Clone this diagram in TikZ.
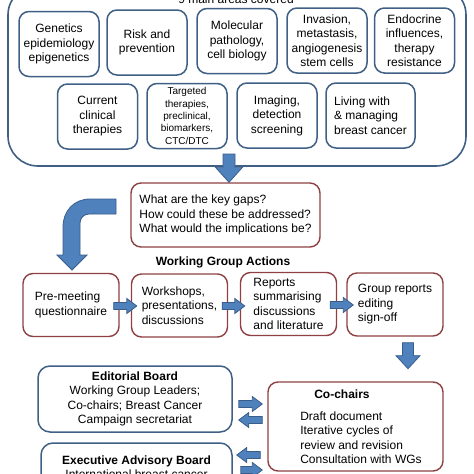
\documentclass[tikz,border=0pt]{standalone}
\usepackage{fontspec}
\setmainfont{Liberation Sans}
\usetikzlibrary{calc, positioning}
\definecolor{boxblue}{HTML}{3F5F85}
\definecolor{boxred}{HTML}{8E4042}
\definecolor{arrowfill}{HTML}{4F81BD}
\definecolor{arrowline}{HTML}{385D8A}
\tikzset{
    textnode/.style  = {draw=none, fill=none, rectangle, inner sep=0em, node distance=0em, 
      align=center, font=\fontsize{12}{14.5}\selectfont},
    outerbox/.style = {draw=boxblue, line width=1.6pt, rectangle, rounded corners=30pt, 
      minimum width=458pt, minimum height=181pt},
    areanode/.style = {draw=boxblue, line width=1.5pt, rectangle, rounded corners=10pt, inner sep=0em, 
      node distance=0em, minimum width=80pt, minimum height=65pt, align=center, 
      font=\fontsize{12}{14.5}\selectfont},
    actionnode/.style = {draw=boxred, line width=1.4pt, rectangle, rounded corners=10pt, inner sep=0em, 
      node distance=0em, minimum width=96pt, minimum height=63pt, align=left, 
      font=\fontsize{12}{14.5}\selectfont},
    boardnode/.style = {draw=boxblue, line width=1.5pt, rectangle, rounded corners=12pt, inner sep=0em, 
      node distance=0em, align=center, font=\fontsize{12}{14.5}\selectfont},
    blockarrow/.style = {draw=arrowline, fill=arrowfill, line width=0.8pt, line join=miter, 
      to path={($(\tikztotarget)!\bahead!(\tikztostart)$) coordinate (ba-h)
        ($(\tikztostart)!\bashaft!90:(ba-h)$) -- ($(ba-h)!\bashaft!-90:(\tikztostart)$)
        -- ($(ba-h)!\bawide!-90:(\tikztostart)$) -- (\tikztotarget)
        -- ($(ba-h)!\bawide!90:(\tikztostart)$) -- ($(ba-h)!\bashaft!90:(\tikztostart)$)
        -- ($(\tikztostart)!\bashaft!-90:(ba-h)$) -- cycle}},
    bigarrow/.style = {blockarrow, /utils/exec={\def\bashaft{6pt}\def\bawide{13.5pt}\def\bahead{15pt}}},
    medarrow/.style = {blockarrow, /utils/exec={\def\bashaft{5.5pt}\def\bawide{12pt}\def\bahead{13pt}}},
    smallarrow/.style = {blockarrow, /utils/exec={\def\bashaft{3.5pt}\def\bawide{7.5pt}\def\bahead{10pt}}}
}

\begin{document}
\begin{tikzpicture}[x=1pt, y=-1pt]
    \clip (0,0) rectangle (474,474);

    % the nine areas
    \node [name=areas, outerbox] at (237,75.5) {};
    \node [name=areastitle, textnode, anchor=base] at (236,3) {9 main areas covered};

    \node [name=gen, areanode] at (59,44) {Genetics\\epidemiology\\epigenetics};
    \node [name=risk, areanode, right of = gen, xshift=88pt, yshift=1.5pt] {Risk and\\prevention};
    \node [name=mol, areanode, right of = gen, xshift=178pt, yshift=3pt] {Molecular\\pathology,\\cell biology};
    \node [name=inv, areanode, right of = gen, xshift=268pt, yshift=3.5pt] 
        {Invasion,\\metastasis,\\angiogenesis\\stem cells};
    \node [name=endo, areanode, right of = gen, xshift=355.5pt, yshift=3.5pt] 
        {Endocrine\\influences,\\therapy\\resistance};

    \node [name=cur, areanode] at (97.5,116.5) {Current\\clinical\\therapies};
    \node [name=targ, areanode, right of = cur, xshift=89.5pt, yshift=0.5pt, font=\fontsize{10}{12.3}\selectfont] 
        {Targeted\\therapies,\\preclinical,\\biomarkers,\\CTC/DTC};
    \node [name=img, areanode, right of = cur, xshift=179.5pt, yshift=1pt] {Imaging,\\detection\\screening};
    \node [name=liv, areanode, right of = cur, xshift=273pt, yshift=1pt, minimum width=89pt, align=left] 
        {Living with\\\& managing\\breast cancer};

    % key gaps
    \node [name=gaps, actionnode, minimum width=189pt, minimum height=64pt] at (225.5,215) 
        {What are the key gaps?\\How could these be addressed?\\What would the implications be?};
    \coordinate (gapsin) at (229,154);
    \draw [bigarrow] (gapsin) to (gapsin |- gaps.north);

    % bent arrow down to the actions
    \draw [draw=arrowline, fill=arrowfill, line width=0.8pt] (116,199) -- (90,199) 
        .. controls (74,199) and (63,211) .. (63,227) -- (63,255) -- (57,255) -- (72,270) 
        -- (87,255) -- (80,255) -- (80,223) .. controls (80,218) and (84,214) .. (89,214) 
        -- (116,214) -- cycle;

    % working group actions
    \node [name=wgtitle, textnode, font=\fontsize{12}{14.5}\selectfont\bfseries] at (223,262) 
        {Working Group Actions};
    \node [name=pre, actionnode] at (71,305) {Pre-meeting\\questionnaire};
    \node [name=work, actionnode, right of = pre, xshift=108.5pt, yshift=-0.5pt] 
        {Workshops,\\presentations,\\discussions};
    \node [name=rep, actionnode, right of = pre, xshift=217.5pt, yshift=1pt] 
        {Reports\\summarising\\discussions\\and literature};
    \node [name=grp, actionnode, right of = pre, xshift=324pt, yshift=0.5pt] 
        {Group reports\\editing\\sign-off};

    \draw [smallarrow] ($(pre.east)+(-6,1)$) to ($(pre.east -| work.west)+(6,1)$);
    \draw [smallarrow] ($(work.east)+(-6,0.5)$) to ($(work.east -| rep.west)+(5,0.5)$);
    \draw [smallarrow] ($(rep.east)+(-7,1)$) to ($(rep.east -| grp.west)+(7,1)$);

    \coordinate (grpout) at ($(grp.south)+(13,6)$);
    \draw [medarrow] (grpout) to ++(0,26);

    % boards and co-chairs
    \node [name=edit, boardnode, minimum width=194pt, minimum height=66pt] at (135,399) 
        {\textbf{Editorial Board}\\Working Group Leaders;\\Co-chairs; Breast Cancer\\Campaign secretariat};
    \node [name=exec, boardnode, minimum width=191pt, minimum height=48pt] at (136.5,467) 
        {\textbf{Executive Advisory Board}\\International breast cancer};
    \node [name=cochair, actionnode, minimum width=175pt, minimum height=89pt] at (355.5,426.5) 
        {\hspace*{25pt}\textbf{Co-chairs}\\[7.5pt]\hspace*{11pt}Draft document\\
         \hspace*{11pt}Iterative cycles of\\\hspace*{11pt}review and revision\\
         \hspace*{11pt}Consultation with WGs};

    \draw [smallarrow] ($(edit.east)+(6,5)$) to ($(edit.east -| cochair.west)+(-5,5)$);
    \draw [smallarrow] ($(edit.east -| cochair.west)+(-5,21)$) to ($(edit.east)+(6,21)$);
    \draw [smallarrow] ($(exec.east -| cochair.west)+(-7,-12)$) to ($(exec.east)+(4,-12)$);
    \draw [smallarrow] ($(exec.east)+(8,3)$) to ($(exec.east -| cochair.west)+(-5,3)$);
\end{tikzpicture}
\end{document}
